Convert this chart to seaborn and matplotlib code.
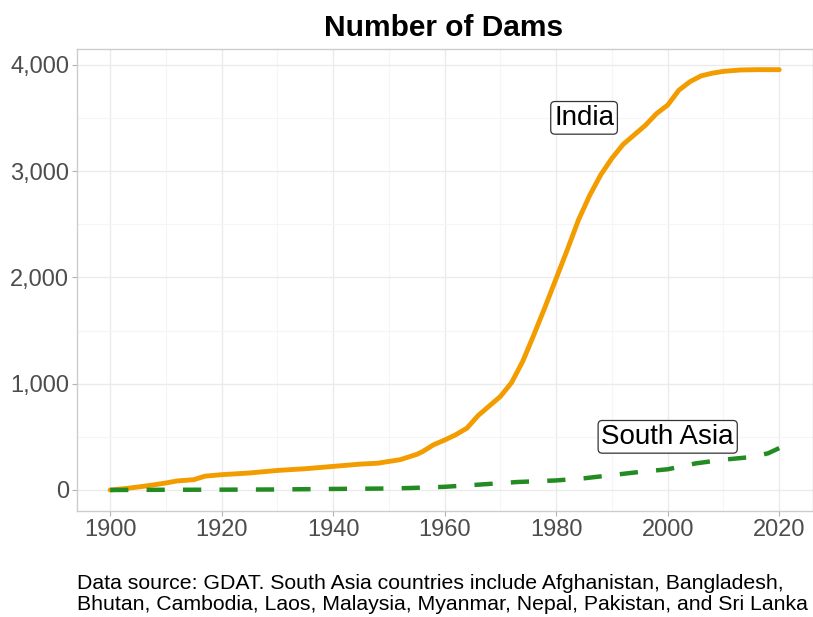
import matplotlib
matplotlib.use("Agg")
import matplotlib.pyplot as plt
import seaborn as sns
import pandas as pd
from matplotlib.ticker import FuncFormatter, MultipleLocator

# values
india_years = [1900, 1903, 1906, 1908, 1910, 1912, 1915, 1917, 1920, 1925, 1930, 1935,
               1940, 1945, 1948, 1952, 1955, 1956, 1958, 1960, 1962, 1964, 1966, 1968,
               1970, 1972, 1974, 1976, 1978, 1980, 1982, 1984, 1986, 1988, 1990, 1992,
               1994, 1996, 1998, 2000, 2002, 2004, 2006, 2008, 2010, 2013, 2016, 2020]
india_dams = [0, 15, 35, 50, 66, 85, 97, 130, 144, 160, 184, 200,
              222, 244, 252, 285, 335, 360, 425, 470, 520, 582, 700, 790,
              880, 1010, 1210, 1460, 1720, 1990, 2260, 2540, 2770, 2965, 3120, 3250,
              3340, 3430, 3540, 3620, 3760, 3840, 3895, 3920, 3937, 3950, 3953, 3953]

sa_years = [1900, 1910, 1920, 1930, 1940, 1950, 1954, 1960, 1966, 1973, 1980,
            1985, 1990, 1995, 2000, 2005, 2010, 2015, 2018, 2020]
sa_dams = [0, 2, 3, 5, 10, 14, 19, 30, 50, 75, 90,
           110, 140, 170, 195, 250, 285, 310, 345, 394]

label_names = ["India", "South Asia"]
label_years = [1985, 2000]
label_values = [3500, 500]

caption = ("Data source: GDAT. South Asia countries include Afghanistan, Bangladesh,\n"
           "Bhutan, Cambodia, Laos, Malaysia, Myanmar, Nepal, Pakistan, and Sri Lanka")

india = pd.DataFrame({"year": india_years, "dams": india_dams})
sa = pd.DataFrame({"year": sa_years, "dams": sa_dams})

sns.set_theme(style="whitegrid")
plt.rcParams["font.family"] = ["Liberation Sans", "DejaVu Sans"]

fig = plt.figure(figsize=(8.13, 6.17), dpi=100)
ax = fig.add_axes([0.0943, 0.1718, 0.9053, 0.7488])

sns.lineplot(data=india, x="year", y="dams", ax=ax, color="#f39c00", linewidth=3.5)
sns.lineplot(data=sa, x="year", y="dams", ax=ax, color="#228b22", linewidth=3.2,
             linestyle=(0, (4.1, 4.1)))

for name, yr, val in zip(label_names, label_years, label_values):
    ax.text(yr, val, name, ha="center", va="center", fontsize=20, color="black",
            bbox=dict(boxstyle="round,pad=0.12,rounding_size=0.15", fc="white",
                      ec="#333333", lw=0.9))

ax.set_xlim(1894, 2026)
ax.set_ylim(-197.5, 4147.5)
ax.xaxis.set_major_locator(MultipleLocator(20))
ax.xaxis.set_minor_locator(MultipleLocator(10))
ax.yaxis.set_major_locator(MultipleLocator(1000))
ax.yaxis.set_minor_locator(MultipleLocator(500))
ax.yaxis.set_major_formatter(FuncFormatter(lambda v, p: f"{int(v):,}"))

ax.grid(which="major", color="#ebebeb", linewidth=1.0)
ax.grid(which="minor", color="#f5f5f5", linewidth=0.8)
ax.set_axisbelow(True)
for s in ax.spines.values():
    s.set_color("#cccccc")
    s.set_linewidth(1.0)

ax.tick_params(axis="both", which="major", labelsize=17, labelcolor="#4d4d4d",
               color="#b3b3b3", length=3.5, width=0.8, direction="out", pad=2,
               bottom=True, left=True)
ax.tick_params(axis="both", which="minor", length=0)
ax.set_xlabel("")
ax.set_ylabel("")

fig.text(0.5458, 0.955, "Number of Dams", ha="center", va="center",
         fontsize=21.5, fontweight="bold", color="black")
fig.text(0.0943, 0.037, caption, ha="left", va="center", fontsize=15.3,
         linespacing=1.15, color="black")

fig.savefig("out.png", dpi=100)
